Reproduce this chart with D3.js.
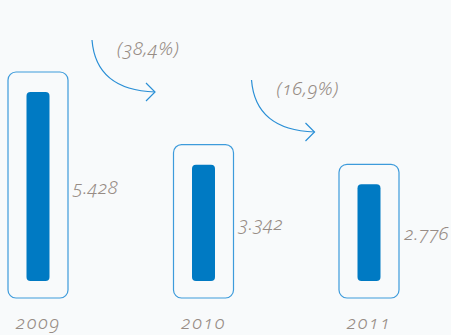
<!DOCTYPE html>
<html>
<head>
<meta charset="utf-8">
<script src="https://cdn.jsdelivr.net/npm/d3@7"></script>
<style>
  html, body { margin: 0; padding: 0; background: #f8fafb; }
  svg { display: block; }
  text {
    font-family: "Noto Sans", Lato, sans-serif;
    font-style: italic;
    font-weight: 300;
    font-variant-numeric: oldstyle-nums;
    font-feature-settings: "onum" 1;
    fill: #978c85;
  }
</style>
</head>
<body>
<svg id="chart" width="451" height="335"></svg>
<script>
// Yearly totals and the year-on-year change between consecutive years
const years = ["2009", "2010", "2011"];
const values = [5428, 3342, 2776];
const changes = ["(38,4%)", "(16,9%)"];

const W = 451, H = 335;
const svg = d3.select("#chart");

svg.append("rect").attr("width", W).attr("height", H).attr("fill", "#f8fafb");

const x = d3.scalePoint().domain(years).range([38, 369]);
const y = d3.scaleLinear().domain([0, 5428]).range([281, 92]);

const fmt = d3.formatLocale({ decimal: ",", thousands: ".", grouping: [3], currency: ["", ""] }).format(",d");

const outerHalf = 30, innerHalf = 11.5, topPad = 20, bottomPad = 17;

const g = svg.append("g");
const bars = g.selectAll("g.bar").data(years.map((yr, i) => ({ yr, v: values[i] })))
  .join("g").attr("class", "bar");

// outline frame around each bar
bars.append("rect")
  .attr("x", d => x(d.yr) - outerHalf)
  .attr("y", d => y(d.v) - topPad)
  .attr("width", outerHalf * 2)
  .attr("height", d => y(0) - y(d.v) + topPad + bottomPad)
  .attr("rx", 8).attr("ry", 8)
  .attr("fill", "none")
  .attr("stroke", "#3d9bdb")
  .attr("stroke-width", 1.2);

// solid value bar
bars.append("rect")
  .attr("x", d => x(d.yr) - innerHalf)
  .attr("y", d => y(d.v))
  .attr("width", innerHalf * 2)
  .attr("height", d => y(0) - y(d.v))
  .attr("rx", 4).attr("ry", 4)
  .attr("fill", "#007ac3");

// value labels beside each frame
bars.append("text")
  .attr("x", d => x(d.yr) + outerHalf + 5)
  .attr("y", d => (y(d.v) + y(0)) / 2 + 7)
  .attr("font-size", 19)
  .attr("letter-spacing", 0.3)
  .text(d => fmt(d.v));

// year labels
bars.append("text")
  .attr("x", d => x(d.yr))
  .attr("y", 329)
  .attr("text-anchor", "middle")
  .attr("font-size", 19)
  .attr("letter-spacing", 1.5)
  .text(d => d.yr);

// curved arrows showing the change between years
const arrowTops = [40, 80];
const arrowDx = [54, 48];
changes.forEach((c, i) => {
  const sx = x(years[i]) + arrowDx[i], sy = arrowTops[i];
  const ex = sx + 63, ey = sy + 52;
  const path = d3.path();
  path.moveTo(sx, sy);
  path.quadraticCurveTo(sx + 4, sy + 50, ex, ey);
  svg.append("path").attr("d", path.toString())
    .attr("fill", "none").attr("stroke", "#2a8fd6").attr("stroke-width", 1.2);
  const head = d3.path();
  head.moveTo(ex - 9, ey - 9);
  head.lineTo(ex, ey);
  head.lineTo(ex - 9, ey + 9);
  svg.append("path").attr("d", head.toString())
    .attr("fill", "none").attr("stroke", "#2a8fd6").attr("stroke-width", 1.2);
  svg.append("text")
    .attr("x", sx + 25)
    .attr("y", sy + 15)
    .attr("font-size", 19)
    .attr("letter-spacing", 0.6)
    .text(c);
});
</script>
</body>
</html>
